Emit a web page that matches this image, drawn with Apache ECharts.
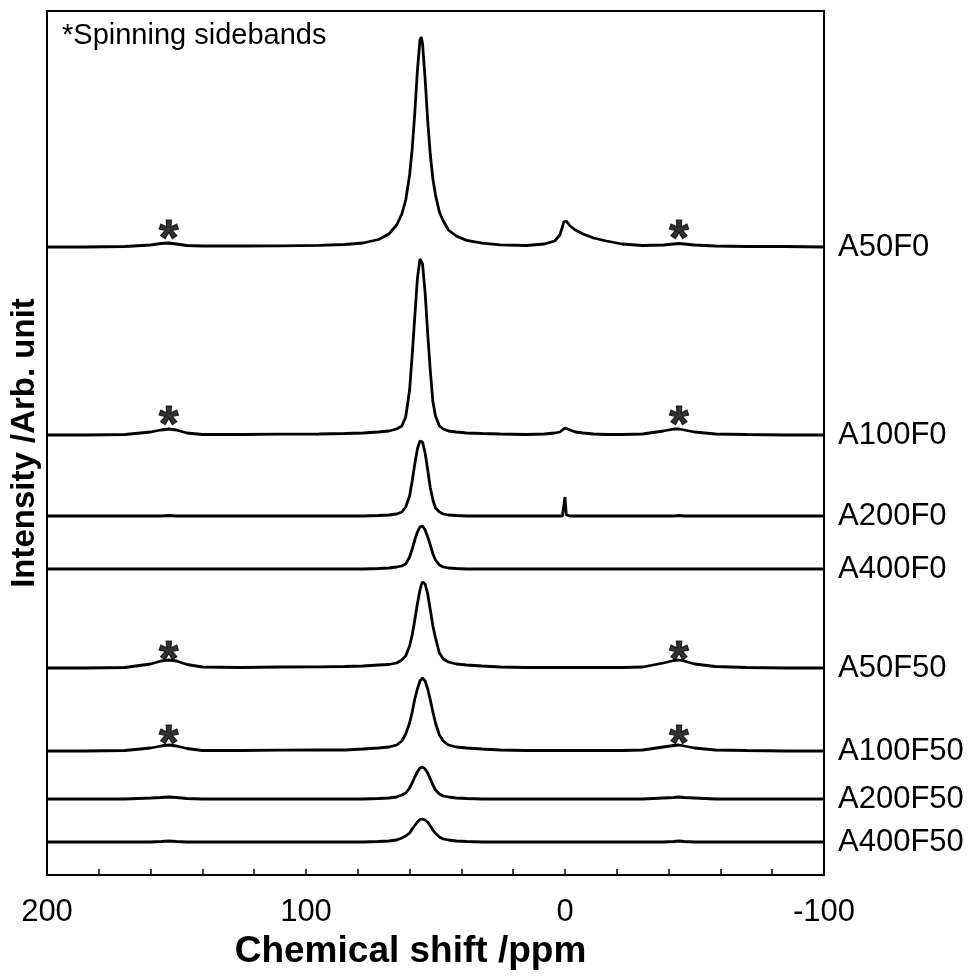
<!DOCTYPE html>
<html><head><meta charset="utf-8">
<script src="https://cdn.jsdelivr.net/npm/echarts@6/dist/echarts.min.js"></script>
<style>html,body{margin:0;padding:0;background:#fff}#c{width:971px;height:976px}</style>
</head><body><div id="c"></div>
<script>
// Chemical shift grid (ppm)
const ppm = [200,185,170,160,156,153,150,146,140,125,110,95,85,78,72,68,65,63,61.5,60,59,58,57,56,55.5,55,54,53,52,51,50,48.5,47,45,42,38,32,25,15,8,4,2,1,0.5,0,-0.5,-1,-2,-4,-7,-11,-16,-22,-30,-38,-42,-44,-46,-50,-58,-70,-85,-100];

// Sample names (top to bottom)
const sampleNames = ['A50F0','A100F0','A200F0','A400F0','A50F50','A100F50','A200F50','A400F50'];

// Vertical stacking offset of each spectrum's baseline (arb. units)
const offsets = [628, 440, 359, 306, 207, 124, 76, 33];

// Intensities above baseline (arb. units), one array per sample
const A50F0   = [0,0,0.5,2,3.5,4,3,1.5,1,1, 1.2,1.6,2.5,4,7.5,13,22,33,47,72, 98,134,176,207,210,203,168,126,92,68, 52,35,26,17,11,6.6,3.8,2.2,1.5,3, 6,12,20,25,27,26,24,21,17,13, 9,6,3,1.5,2,3,3.5,3,2,1, 0.5,0.5,0];
const A100F0  = [0,0,0.5,3,5,6,5,2,0.5,0.5, 0.8,1,1.5,2,3,4,6,9,18,45, 80,118,156,176,177,171,142,101,64,33, 19,9,6,4,3,2,1.5,1,0.5,1, 2,3,5,6,7,6.5,6,5,3,2, 1,0.5,0.5,1,4,6,6,5,3,1, 0.5,0,0];
const A200F0  = [0,0,0,0,0,0.5,0,0,0,0, 0,0,0,0,0.5,1,2,4,9,20, 35,52,67,75,76,74,63,46,28,16, 8,4,2,1,0.5,0,0,0,0,0, 0,0,0,1,19,1,0,0,0,0, 0,0,0,0,0,0,0.5,0,0,0, 0,0,0];
const A400F0  = [0,0,0,0,0,0,0,0,0,0, 0,0,0,0,0.5,1,2,3,5,12, 20,29,37,42,43,43,39,32,24,15, 9,4,2,1,0.5,0,0,0,0,0, 0,0,0,0,0,0,0,0,0,0, 0,0,0,0,0,0,0,0,0,0, 0,0,0];
const A50F50  = [0,0,0.5,4,7,8,7,3.5,1,0.5, 1,1.2,1.5,2,3,3.5,5,8,12,22, 33,48,64,78,83,86,84,74,58,42, 30,15,9,6,4,3,2,1,0.5,0.5, 0.5,0.5,0.5,0.5,0.5,0.5,0.5,0.5,0.5,0.5, 0.5,0.5,0.5,1,5,7.5,8,7,4,1.5, 0.5,0,0];
const A100F50 = [0,0,0.5,3,5,6,5,2.5,0.5,0.5, 0.8,1,1,2,3,4,6,10,17,28, 39,52,62,70,72,73,70,62,51,39, 28,16,10,6,4,3,2,1,0.5,0.5, 0.5,0.5,0.5,0.5,0.5,0.5,0.5,0.5,0.5,0.5, 0.5,0.5,0.5,1,4,5.5,6,5,3,1, 0.5,0,0];
const A200F50 = [0,0,0,1,1.5,2,1.5,0.5,0,0, 0,0,0,0,0.5,1,2,4,6,11, 16,22,27,31,32,32,30,26,20,14, 9,5,3,2,1,0.5,0,0,0,0, 0,0,0,0,0,0,0,0,0,0, 0,0,0,0,1,1.5,2,1.5,1,0, 0,0,0];
const A400F50 = [0,0,0,0,0.5,1,0.5,0,0,0, 0,0,0,0,0.5,1,2,4,6,9, 13,16.5,20,22.5,23,23,22,20,16,12, 8.5,5,3,2,1,0.5,0,0,0,0, 0,0,0,0,0,0,0,0,0,0, 0,0,0,0,0,0.5,1,0.5,0,0, 0,0,0];
const spectra = [A50F0, A100F0, A200F0, A400F0, A50F50, A100F50, A200F50, A400F50];

// Spinning sideband markers
const starSamples = ['A50F0','A100F0','A50F50','A100F50'];
const starPpm = [153, -44];
const starHeights = [19, 21, 19, 18];

// Axis ticks
const xMin = -100, xMax = 200, xStep = 20;
const yMin = 0, yMax = 864;

const series = spectra.map((vals, k) => ({
  name: sampleNames[k],
  type: 'line',
  showSymbol: false,
  symbol: 'none',
  silent: true,
  lineStyle: {color: '#000', width: 2.8},
  data: ppm.map((p, i) => [p, offsets[k] + vals[i]])
}));

const starData = [];
starSamples.forEach((s, j) => {
  const k = sampleNames.indexOf(s);
  starPpm.forEach(p => starData.push([p, offsets[k] + starHeights[j]]));
});
series.push({
  type: 'scatter',
  symbolSize: 0.1,
  silent: true,
  itemStyle: {color: 'transparent'},
  label: {show: true, position: 'inside', formatter: '*', color: '#000',
          textBorderColor: '#000', textBorderWidth: 1.2,
          fontFamily: 'Liberation Sans', fontWeight: 'bold', fontSize: 50, offset: [0, 13]},
  data: starData
});

const chart = echarts.init(document.getElementById('c'), null, {renderer: 'canvas'});
chart.setOption({
  animation: false,
  backgroundColor: '#fff',
  grid: {left: 47, right: 147, top: 11, bottom: 101, show: true, borderColor: '#000', borderWidth: 2},
  graphic: [{
    type: 'text', left: 62, top: 21,
    style: {text: '*Spinning sidebands', fontFamily: 'Liberation Sans', fontSize: 29, fill: '#000'}
  }],
  xAxis: {
    type: 'value', inverse: true, min: xMin, max: xMax, interval: xStep,
    name: 'Chemical shift /ppm', nameLocation: 'middle', nameGap: 57,
    nameTextStyle: {fontFamily: 'Liberation Sans', fontWeight: 'bold', fontSize: 37, color: '#000',
                    padding: [0, 50, 0, 0]},
    axisLine: {lineStyle: {color: '#000', width: 2}},
    axisTick: {inside: true, length: 6, lineStyle: {color: '#000', width: 1.5}},
    axisLabel: {margin: 22, fontFamily: 'Liberation Sans', fontSize: 31, color: '#000',
                formatter: v => (v % 100 === 0 ? String(v) : '')},
    splitLine: {show: false}
  },
  yAxis: [{
    type: 'value', min: yMin, max: yMax, position: 'left',
    name: 'Intensity /Arb. unit', nameLocation: 'middle', nameGap: 6,
    nameTextStyle: {fontFamily: 'Liberation Sans', fontWeight: 'bold', fontSize: 33, color: '#000'},
    axisLine: {show: true, onZero: false, lineStyle: {color: '#000', width: 2}},
    axisTick: {show: false}, axisLabel: {show: false}, splitLine: {show: false}
  }, {
    type: 'value', min: yMin, max: yMax, position: 'right',
    axisLine: {show: true, onZero: false, lineStyle: {color: '#000', width: 2}},
    axisTick: {show: true, inside: true, length: 5, customValues: offsets, lineStyle: {color: '#000', width: 1.5}},
    axisLabel: {show: true, customValues: offsets, margin: 14, fontFamily: 'Liberation Sans', fontSize: 31, color: '#000',
                formatter: v => sampleNames[offsets.indexOf(v)]},
    splitLine: {show: false}
  }],
  series: series
});
</script></body></html>
